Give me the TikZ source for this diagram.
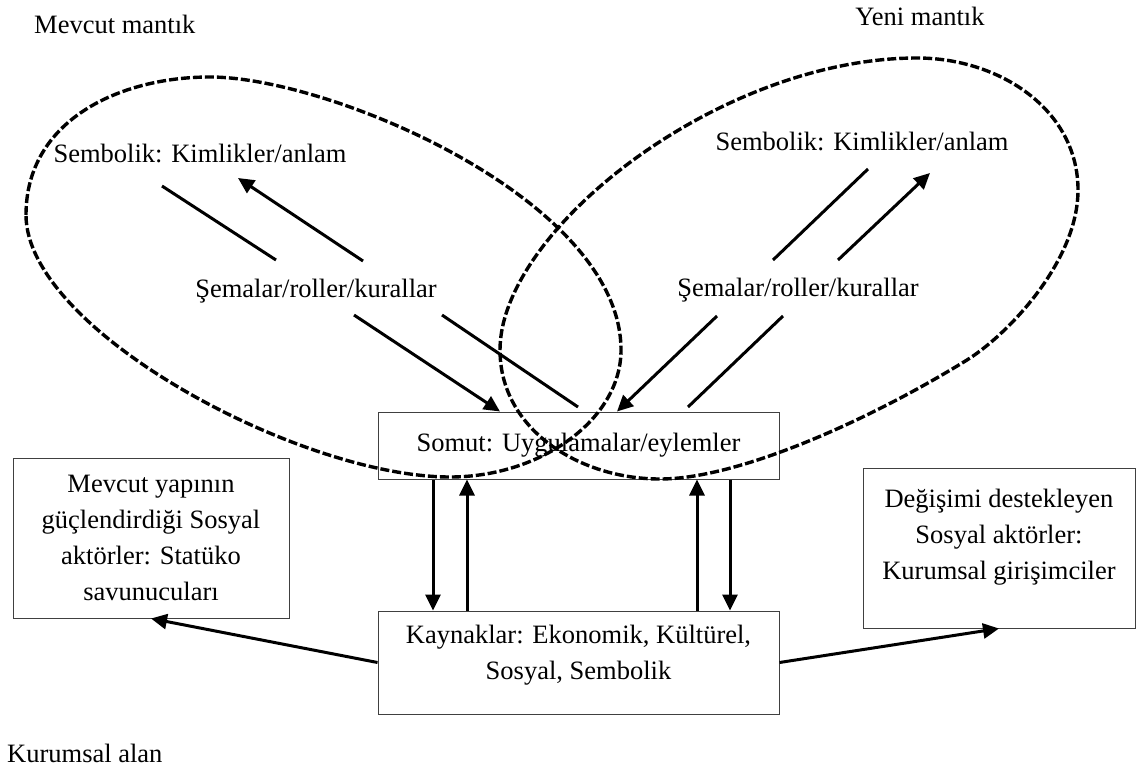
\documentclass[tikz,border=0pt]{standalone}
\usepackage{fontspec}
\setmainfont{Liberation Serif}
\usetikzlibrary{arrows.meta}
\begin{document}
\begin{tikzpicture}[x=1pt,y=-1pt,
  txt/.style={inner sep=0pt, font=\fontsize{26.5}{36}\selectfont, align=center},
  box/.style={draw=black!75, line width=1pt, inner sep=0pt, font=\fontsize{26.5}{36}\selectfont, align=center},
  arr/.style={line width=3pt, -{Triangle[length=16pt,width=15pt]}},
  ln/.style={line width=3pt},
  dashline/.style={line width=3.4pt, dash pattern=on 9pt off 3pt}]
\useasboundingbox (0,0) rectangle (1136,771);

% boxes
\node[box, minimum width=401pt, minimum height=67pt] (somut) at (578.5,445.5) {Somut: Uygulamalar/eylemler};
\node[box, minimum width=401pt, minimum height=103pt] (kay) at (578.5,662.5) {};
\node[txt] (kaytext) at (578.5,655) {Kaynaklar: Ekonomik, Kültürel,\\Sosyal, Sembolik};
\node[box, minimum width=276pt, minimum height=160pt] (lbox) at (151,538) {Mevcut yapının\\güçlendirdiği Sosyal\\aktörler: Statüko\\savunucuları};
\node[box, minimum width=272pt, minimum height=160pt] (rbox) at (999,548) {};
\node[txt] (rtext) at (999,537) {Değişimi destekleyen\\Sosyal aktörler:\\Kurumsal girişimciler};

% free labels
\node[txt, anchor=base west] (mevcut) at (34,33) {Mevcut mantık};
\node[txt, anchor=base] (yeni) at (920,25) {Yeni mantık};
\node[txt, anchor=base west] (alan) at (7,762) {Kurumsal alan};
\node[txt, anchor=base] (semL) at (200,162) {Sembolik: Kimlikler/anlam};
\node[txt, anchor=base] (semR) at (862,150) {Sembolik: Kimlikler/anlam};
\node[txt, anchor=base] (schL) at (316,297) {Şemalar/roller/kurallar};
\node[txt, anchor=base] (schR) at (798,296) {Şemalar/roller/kurallar};

% coordinates for free line ends
\coordinate (l1a) at (162,186); \coordinate (l1b) at (276,260);
\coordinate (l2a) at (363,261); \coordinate (l2b) at (238,178);
\coordinate (l3a) at (354,315);
\coordinate (l4a) at (442,315); \coordinate (l4b) at (578,407);
\coordinate (r1a) at (773,260); \coordinate (r1b) at (868,169);
\coordinate (r2a) at (838,260); \coordinate (r2b) at (930,173);
\coordinate (r3a) at (717,316);
\coordinate (r4a) at (783,316); \coordinate (r4b) at (688,407);

% diagonal lines
\draw[ln] (l1a) -- (l1b);
\draw[arr] (l2a) -- (l2b);
\draw[arr] (l3a) -- (somut.north -| 500,0);
\draw[ln] (l4a) -- (l4b);
\draw[ln] (r1a) -- (r1b);
\draw[arr] (r2a) -- (r2b);
\draw[arr] (r3a) -- (somut.north -| 617,0);
\draw[ln] (r4a) -- (r4b);

% vertical arrows
\draw[arr] (somut.south -| 433,0) -- (kay.north -| 433,0);
\draw[arr] (kay.north -| 467,0) -- (somut.south -| 467,0);
\draw[arr] (kay.north -| 697,0) -- (somut.south -| 697,0);
\draw[arr] (somut.south -| 730,0) -- (kay.north -| 730,0);

% side arrows
\draw[arr] (kay.west) -- (lbox.south);
\draw[arr] (kay.east) -- (rbox.south);

% dashed loops
\draw[dashline] (26,215) .. controls (26,120) and (120,77) .. (210,77)
  .. controls (330,77) and (621,200) .. (621,350)
  .. controls (621,420) and (540,477) .. (450,477)
  .. controls (300,477) and (26,330) .. (26,215) -- cycle;
\draw[dashline] (500,350) .. controls (500,230) and (720,58) .. (917,58)
  .. controls (1000,58) and (1078,110) .. (1078,190)
  .. controls (1078,260) and (1010,333) .. (967,360)
  .. controls (873,418) and (740,479) .. (660,479)
  .. controls (580,479) and (500,430) .. (500,350) -- cycle;
\end{tikzpicture}
\end{document}
